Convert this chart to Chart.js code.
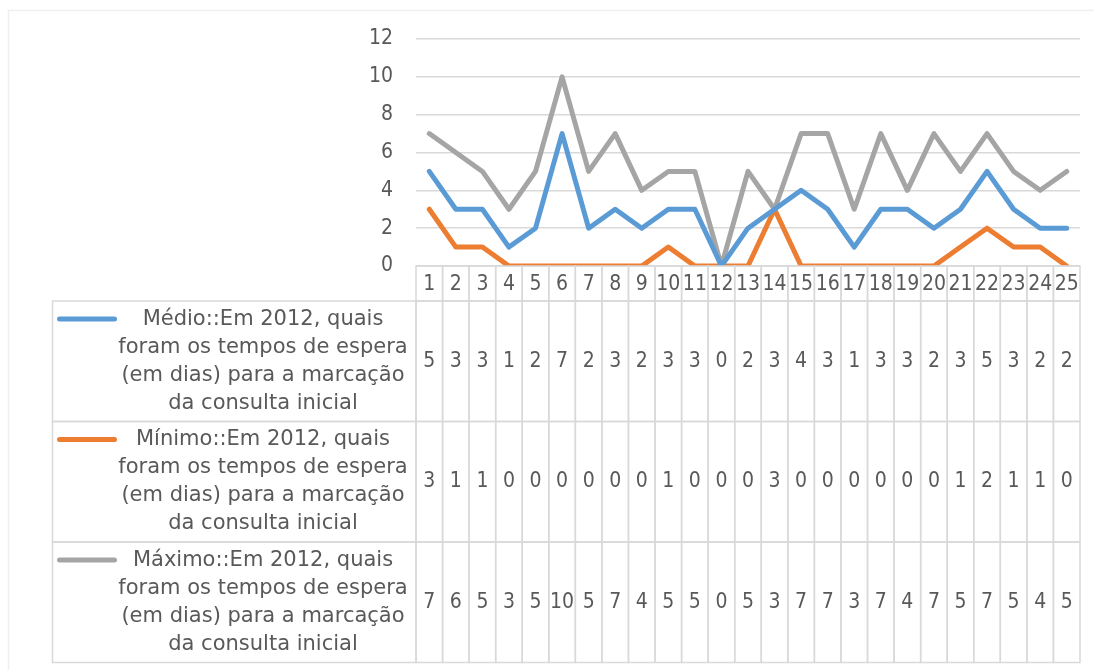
<!DOCTYPE html>
<html>
<head>
<meta charset="utf-8">
<script src="https://cdn.jsdelivr.net/npm/chart.js@4"></script>
<style>
  body { margin: 0; background: #fff; }
</style>
</head>
<body>
<canvas id="chart" width="1094" height="670"></canvas>
<script>
const TEXT_FONT = "'DejaVu Sans', sans-serif"
const NUM_FONT = "'DejaVu Sans Condensed', 'DejaVu Sans', sans-serif"
const TEXT_COLOR = '#595959'
const LINE_COLOR = '#d9d9d9'

// data
const categories = ['1', '2', '3', '4', '5', '6', '7', '8', '9', '10', '11', '12', '13',
  '14', '15', '16', '17', '18', '19', '20', '21', '22', '23', '24', '25']
const medio = [5, 3, 3, 1, 2, 7, 2, 3, 2, 3, 3, 0, 2, 3, 4, 3, 1, 3, 3, 2, 3, 5, 3, 2, 2]
const minimo = [3, 1, 1, 0, 0, 0, 0, 0, 0, 1, 0, 0, 0, 3, 0, 0, 0, 0, 0, 0, 1, 2, 1, 1, 0]
const maximo = [7, 6, 5, 3, 5, 10, 5, 7, 4, 5, 5, 0, 5, 3, 7, 7, 3, 7, 4, 7, 5, 7, 5, 4, 5]
const question = 'Em 2012, quais foram os tempos de espera (em dias) para a marcação da consulta inicial'
const seriesNames = ['Médio::' + question, 'Mínimo::' + question, 'Máximo::' + question]
const seriesColors = ['#5b9bd5', '#ed7d31', '#a5a5a5']

// word wrap for the row headers of the data table
const wrapText = (ctx, text, maxWidth) => {
  const words = text.split(' ')
  const lines = []
  let line = ''
  words.forEach((w) => {
    const test = line ? line + ' ' + w : w
    if (ctx.measureText(test).width > maxWidth && line) {
      lines.push(line)
      line = w
    } else {
      line = test
    }
  })
  if (line) lines.push(line)
  return lines
}

// frame around the whole chart
const framePlugin = {
  id: 'frame',
  beforeDraw(chart) {
    const ctx = chart.ctx
    ctx.save()
    ctx.strokeStyle = '#efefef'
    ctx.lineWidth = 1.5
    ctx.strokeRect(8.5, 10.5, 1200, 800)
    ctx.restore()
  }
}

// data table under the plot, aligned on the category scale
const dataTablePlugin = {
  id: 'dataTable',
  afterDraw(chart) {
    const ctx = chart.ctx
    const x = chart.scales.x
    const colW = (x.right - x.left) / categories.length
    const top = chart.chartArea.bottom
    const catRowH = 35
    const rowH = 120.5
    const headerLeft = 52.5

    ctx.save()
    ctx.strokeStyle = LINE_COLOR
    ctx.lineWidth = 1.5
    ctx.fillStyle = TEXT_COLOR
    ctx.font = '21px ' + NUM_FONT
    ctx.textAlign = 'center'
    ctx.textBaseline = 'middle'

    // category row
    categories.forEach((c, i) => {
      const cx = x.getPixelForValue(i)
      ctx.strokeRect(cx - colW / 2, top, colW, catRowH)
      ctx.fillText(c, cx, top + catRowH / 2 + 1)
    })

    const series = chart.data.datasets
    series.forEach((ds, s) => {
      const rowTop = top + catRowH + s * rowH
      // header cell
      ctx.strokeRect(headerLeft, rowTop, x.left - headerLeft, rowH)
      // values
      ctx.font = '21px ' + NUM_FONT
      ds.data.forEach((v, i) => {
        const cx = x.getPixelForValue(i)
        ctx.strokeRect(cx - colW / 2, rowTop, colW, rowH)
        ctx.fillText(String(v), cx, rowTop + rowH / 2)
      })
      // legend key
      ctx.save()
      ctx.strokeStyle = ds.borderColor
      ctx.lineWidth = 5
      ctx.lineCap = 'round'
      ctx.beginPath()
      ctx.moveTo(headerLeft + 7, rowTop + 18)
      ctx.lineTo(headerLeft + 62, rowTop + 18)
      ctx.stroke()
      ctx.restore()
      // label
      ctx.font = '21px ' + TEXT_FONT
      const lines = wrapText(ctx, ds.label, 300)
      const lineH = 28
      const startY = rowTop + rowH / 2 - (lines.length - 1) * lineH / 2
      lines.forEach((ln, k) => {
        ctx.fillText(ln, 263, startY + k * lineH)
      })
    })
    ctx.restore()
  }
}

new Chart(document.getElementById('chart'), {
  type: 'line',
  data: {
    labels: categories,
    datasets: [medio, minimo, maximo].map((values, i) => ({
      label: seriesNames[i],
      data: values,
      borderColor: seriesColors[i],
      backgroundColor: seriesColors[i],
      borderWidth: 5,
      borderJoinStyle: 'round',
      borderCapStyle: 'round',
      pointRadius: 0,
      tension: 0
    }))
  },
  options: {
    responsive: false,
    animation: false,
    layout: { padding: { left: 0, right: 14, top: 39, bottom: 404 } },
    plugins: {
      legend: { display: false },
      tooltip: { enabled: false }
    },
    scales: {
      x: {
        display: false,
        offset: true
      },
      y: {
        min: 0,
        max: 12,
        afterFit: (scale) => { scale.width = 416 },
        border: { display: false },
        grid: { color: LINE_COLOR, lineWidth: 1.5, drawTicks: false },
        ticks: {
          stepSize: 2,
          padding: 23,
          color: TEXT_COLOR,
          font: { family: NUM_FONT, size: 21 }
        }
      }
    }
  },
  plugins: [framePlugin, dataTablePlugin]
})
</script>
</body>
</html>
